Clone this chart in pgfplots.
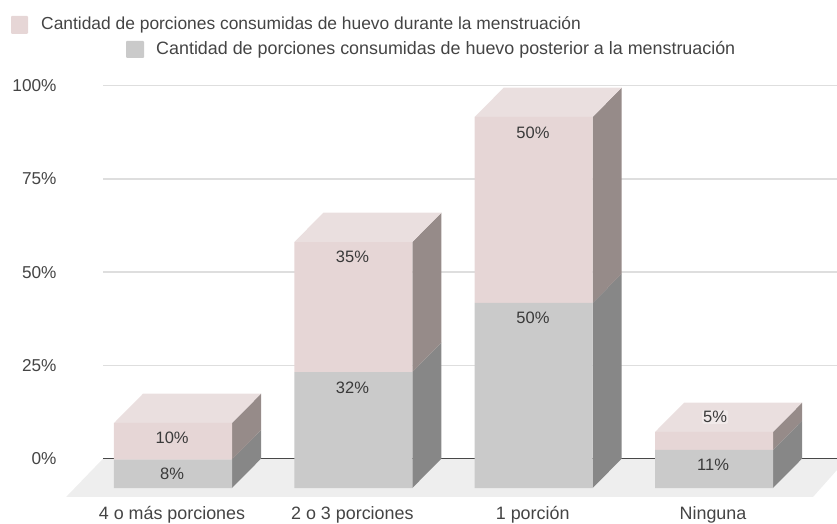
\documentclass[border=0pt]{standalone}
\usepackage{fontspec}
\setmainfont{Liberation Sans}
\usepackage{pgfplots}
\pgfplotsset{compat=1.18}
\definecolor{pinkfront}{HTML}{E6D6D6}
\definecolor{pinktop}{HTML}{EADFDF}
\definecolor{pinkside}{HTML}{968B89}
\definecolor{grayfront}{HTML}{CACACA}
\definecolor{grayside}{HTML}{878787}
\definecolor{floorc}{HTML}{EEEEEE}
\definecolor{gridc}{HTML}{DEDEDE}
\definecolor{zeroc}{HTML}{484848}
\definecolor{textc}{HTML}{444444}
\definecolor{labelc}{HTML}{3A3A3A}
\pgfplotsset{
  base/.style={
    at={(0pt,0pt)}, anchor=south west,
    scale only axis, width=837pt, height=523pt,
    xmin=-0.9593, xmax=3.682, ymin=-9.383, ymax=130.83,
    axis line style={draw=none},
    major tick length=0pt,
    clip=false,
  },
  bare/.style={base, xtick=\empty, ytick=\empty},
}
\begin{document}
\begin{tikzpicture}
\useasboundingbox (0pt,0pt) rectangle (837pt,523pt);
% floor, grid lines and tick labels
\begin{axis}[base,
  xtick={0,1,2,3},
  xticklabels={4 o más porciones,2 o 3 porciones,1 porción,Ninguna},
  ytick={7.86,32.86,57.86,82.86,107.86},
  yticklabels={0\%,25\%,50\%,75\%,100\%},
  xticklabel style={font=\fontsize{17.9}{20}\selectfont, text=textc, yshift=20pt, xshift=-1pt},
  yticklabel style={font=\fontsize{17.2}{20}\selectfont, text=textc, anchor=east, xshift=60pt},
]
\addplot[fill=floorc, draw=none] coordinates {(-0.593,-2.41) (-0.388,7.86) (3.682,7.86) (3.682,4.83) (3.549,-2.41)} -- cycle;
\addplot[gridc, line width=1.5pt] coordinates {(-0.388,32.86) (3.682,32.86)};
\addplot[gridc, line width=1.5pt] coordinates {(-0.388,57.86) (3.682,57.86)};
\addplot[gridc, line width=1.5pt] coordinates {(-0.388,82.86) (3.682,82.86)};
\addplot[gridc, line width=1.5pt] coordinates {(-0.388,107.86) (3.682,107.86)};
\addplot[zeroc, line width=1.4pt] coordinates {(-0.388,7.86) (3.682,7.86)};
\end{axis}
% side and top faces of the bars
\begin{axis}[bare]
% 4 o mas porciones
\addplot[fill=grayside, draw=none] coordinates {(0.327,0) (0.488,7.86) (0.488,15.50) (0.327,7.64)} -- cycle;
\addplot[fill=pinkside, draw=none] coordinates {(0.327,7.64) (0.488,15.50) (0.488,25.29) (0.327,17.43)} -- cycle;
\addplot[fill=pinktop, draw=none] coordinates {(-0.327,17.43) (-0.166,25.29) (0.488,25.29) (0.327,17.43)} -- cycle;
% 2 o 3 porciones
\addplot[fill=grayside, draw=none] coordinates {(1.327,0) (1.488,7.86) (1.488,38.96) (1.327,31.10)} -- cycle;
\addplot[fill=pinkside, draw=none] coordinates {(1.327,31.10) (1.488,38.96) (1.488,73.81) (1.327,65.95)} -- cycle;
\addplot[fill=pinktop, draw=none] coordinates {(0.673,65.95) (0.834,73.81) (1.488,73.81) (1.327,65.95)} -- cycle;
% 1 porcion
\addplot[fill=grayside, draw=none] coordinates {(2.327,0) (2.488,7.86) (2.488,57.46) (2.327,49.60)} -- cycle;
\addplot[fill=pinkside, draw=none] coordinates {(2.327,49.60) (2.488,57.46) (2.488,107.33) (2.327,99.47)} -- cycle;
\addplot[fill=pinktop, draw=none] coordinates {(1.673,99.47) (1.834,107.33) (2.488,107.33) (2.327,99.47)} -- cycle;
% Ninguna
\addplot[fill=grayside, draw=none] coordinates {(3.327,0) (3.488,7.86) (3.488,18.05) (3.327,10.19)} -- cycle;
\addplot[fill=pinkside, draw=none] coordinates {(3.327,10.19) (3.488,18.05) (3.488,22.88) (3.327,15.02)} -- cycle;
\addplot[fill=pinktop, draw=none] coordinates {(2.673,15.02) (2.834,22.88) (3.488,22.88) (3.327,15.02)} -- cycle;
\end{axis}
% front faces: the stacked values
\begin{axis}[bare, ybar stacked, bar width=118pt]
\addplot[fill=grayfront, draw=none] coordinates {(0,7.64) (1,31.10) (2,49.60) (3,10.19)};
\addplot[fill=pinkfront, draw=none] coordinates {(0,9.79) (1,34.85) (2,49.87) (3,4.83)};
\end{axis}
% data labels
\begin{axis}[bare,
  point meta=explicit symbolic,
  nodes near coords,
  every node near coord/.append style={anchor=center, text=labelc, font=\fontsize{16.5}{19}\selectfont, inner sep=1pt},
]
\addplot[draw=none, mark=none] coordinates {(-0.005,3.75)[8\%] (-0.005,13.40)[10\%] (0.995,26.80)[32\%] (0.995,61.90)[35\%] (1.996,45.60)[50\%] (1.996,95.20)[50\%] (2.995,6.17)[11\%]};
\addplot[draw=none, mark=none, every node near coord/.append style={fill=white, fill opacity=0.35, text opacity=1, rounded corners=2pt}] coordinates {(3.006,19.03)[5\%]};
\end{axis}
% legend
\fill[pinkfront, rounded corners=1pt] (11pt,489pt) rectangle (28pt,507pt);
\node[anchor=west, inner sep=0pt, text=textc, font=\fontsize{17.4}{20}\selectfont] at (41pt,498pt) {Cantidad de porciones consumidas de huevo durante la menstruación};
\fill[grayfront, rounded corners=1pt] (126pt,465pt) rectangle (144pt,482pt);
\node[anchor=west, inner sep=0pt, text=textc, font=\fontsize{17.9}{20}\selectfont] at (156pt,473pt) {Cantidad de porciones consumidas de huevo posterior a la menstruación};
\end{tikzpicture}
\end{document}
